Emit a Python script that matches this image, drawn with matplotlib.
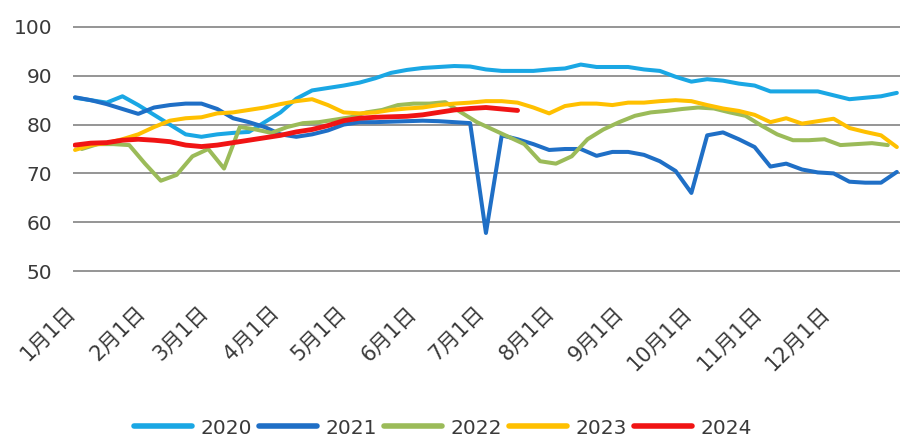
import matplotlib
matplotlib.use("Agg")
import matplotlib.pyplot as plt
import matplotlib.transforms as mtransforms
import numpy as np

plt.rcParams['font.family'] = ['DejaVu Sans', 'Noto Sans CJK SC']

# ---------------- data ----------------
years = ["2020", "2021", "2022", "2023", "2024"]
colors = ["#1AA7E4", "#1F6FC6", "#9BBB59", "#FFC000", "#F01414"]

# day-of-year of first weekly observation
first_day = [0, 0, 3, 0, 0]

v2020 = [85.5, 85.0, 84.5, 85.8, 84.0, 82.0, 80.0, 78.0, 77.5, 78.0,
         78.3, 78.5, 80.5, 82.5, 85.3, 87.0, 87.5, 88.0, 88.6, 89.5,
         90.6, 91.2, 91.6, 91.8, 92.0, 91.9, 91.3, 91.0, 91.0, 91.0,
         91.3, 91.5, 92.3, 91.8, 91.8, 91.8, 91.3, 91.0, 89.8, 88.8,
         89.3, 89.0, 88.4, 88.0, 86.8, 86.8, 86.8, 86.8, 86.0, 85.2,
         85.5, 85.8, 86.5]
v2021 = [85.6, 85.0, 84.2, 83.2, 82.2, 83.5, 84.0, 84.3, 84.3, 83.2,
         81.3, 80.5, 79.5, 78.0, 77.5, 78.0, 78.8, 80.0, 80.5, 80.5,
         80.6, 80.7, 80.8, 80.7, 80.5, 80.3, 57.8, 77.8, 77.0, 76.0,
         74.8, 75.0, 75.0, 73.6, 74.4, 74.4, 73.8, 72.5, 70.5, 66.0,
         77.8, 78.4, 77.0, 75.4, 71.4, 72.0, 70.8, 70.2, 70.0, 68.3,
         68.1, 68.1, 70.3]
v2022 = [75.0, 76.0, 76.0, 75.8, 72.0, 68.5, 69.7, 73.5, 75.0, 71.0,
         79.5, 79.0, 78.3, 79.5, 80.3, 80.5, 81.0, 81.5, 82.5, 83.0,
         84.0, 84.3, 84.3, 84.6, 82.5, 80.5, 79.0, 77.5, 76.0, 72.5,
         72.0, 73.5, 77.0, 79.0, 80.5, 81.8, 82.5, 82.8, 83.2, 83.5,
         83.3, 82.5, 81.8, 79.8, 78.0, 76.8, 76.8, 77.0, 75.8, 76.0,
         76.2, 75.8]
v2023 = [74.8, 75.8, 76.2, 77.0, 78.0, 79.5, 80.8, 81.3, 81.5, 82.3,
         82.5, 83.0, 83.5, 84.2, 84.8, 85.2, 84.0, 82.5, 82.3, 82.5,
         83.0, 83.3, 83.5, 84.0, 84.3, 84.5, 84.8, 84.8, 84.5, 83.5,
         82.3, 83.8, 84.3, 84.3, 84.0, 84.5, 84.5, 84.8, 85.0, 84.8,
         84.0, 83.3, 82.8, 82.0, 80.5, 81.3, 80.2, 80.7, 81.2, 79.3,
         78.5, 77.8, 75.4]
v2024 = [75.8, 76.2, 76.3, 76.8, 77.0, 76.8, 76.5, 75.8, 75.5, 75.8,
         76.3, 76.8, 77.3, 77.8, 78.5, 79.0, 79.8, 80.8, 81.3, 81.5,
         81.6, 81.7, 82.0, 82.5, 83.0, 83.3, 83.5, 83.2, 82.9]
series = [v2020, v2021, v2022, v2023, v2024]

month_days = [0, 31, 59, 90, 120, 151, 181, 212, 243, 273, 304, 334]
month_labels = ["1月1日", "2月1日", "3月1日", "4月1日", "5月1日", "6月1日",
                "7月1日", "8月1日", "9月1日", "10月1日", "11月1日", "12月1日"]
y_ticks = [50, 60, 70, 80, 90, 100]

# ---------------- plot ----------------
W, H = 905, 448
fig = plt.figure(figsize=(W / 100, H / 100), dpi=100)
ax = fig.add_axes([73 / W, (H - 272) / H, 827 / W, 246 / H])

for name, vals, col, d0 in zip(years, series, colors, first_day):
    x = d0 + 7 * np.arange(len(vals))
    lw = 3.5 if name == "2024" else 2.9
    ax.plot(x, vals, color=col, lw=lw, label=name, solid_capstyle='round',
            solid_joinstyle='round')

ax.set_xlim(-0.9, 365.4)
ax.set_ylim(49.8, 100.2)
ax.set_yticks(y_ticks)
ax.set_yticklabels([str(v) for v in y_ticks])
ax.grid(axis='y', color='#8C8C8C', lw=1.3)
ax.set_axisbelow(True)
for s in ax.spines.values():
    s.set_visible(False)

ax.set_xticks(month_days)
ax.set_xticklabels(month_labels, rotation=45, ha='right', va='center',
                   rotation_mode='anchor')
ax.tick_params(axis='x', length=0, pad=27, labelsize=15, labelcolor='#3A3A3A')
ax.tick_params(axis='y', length=0, pad=15, labelsize=14.5, labelcolor='#3A3A3A')
offset = mtransforms.ScaledTranslation(-3 / 100, 0, fig.dpi_scale_trans)
for lab in ax.get_xticklabels():
    lab.set_transform(lab.get_transform() + offset)

leg = fig.legend(loc='center', bbox_to_anchor=(443 / W, 1 - 428 / H), ncol=5,
                 frameon=False, fontsize=14.5, handlelength=2.9,
                 handletextpad=0.4, columnspacing=0.35, labelcolor='#3A3A3A')
for line in leg.get_lines():
    line.set_linewidth(4.0)

fig.savefig("out.png", dpi=100)
